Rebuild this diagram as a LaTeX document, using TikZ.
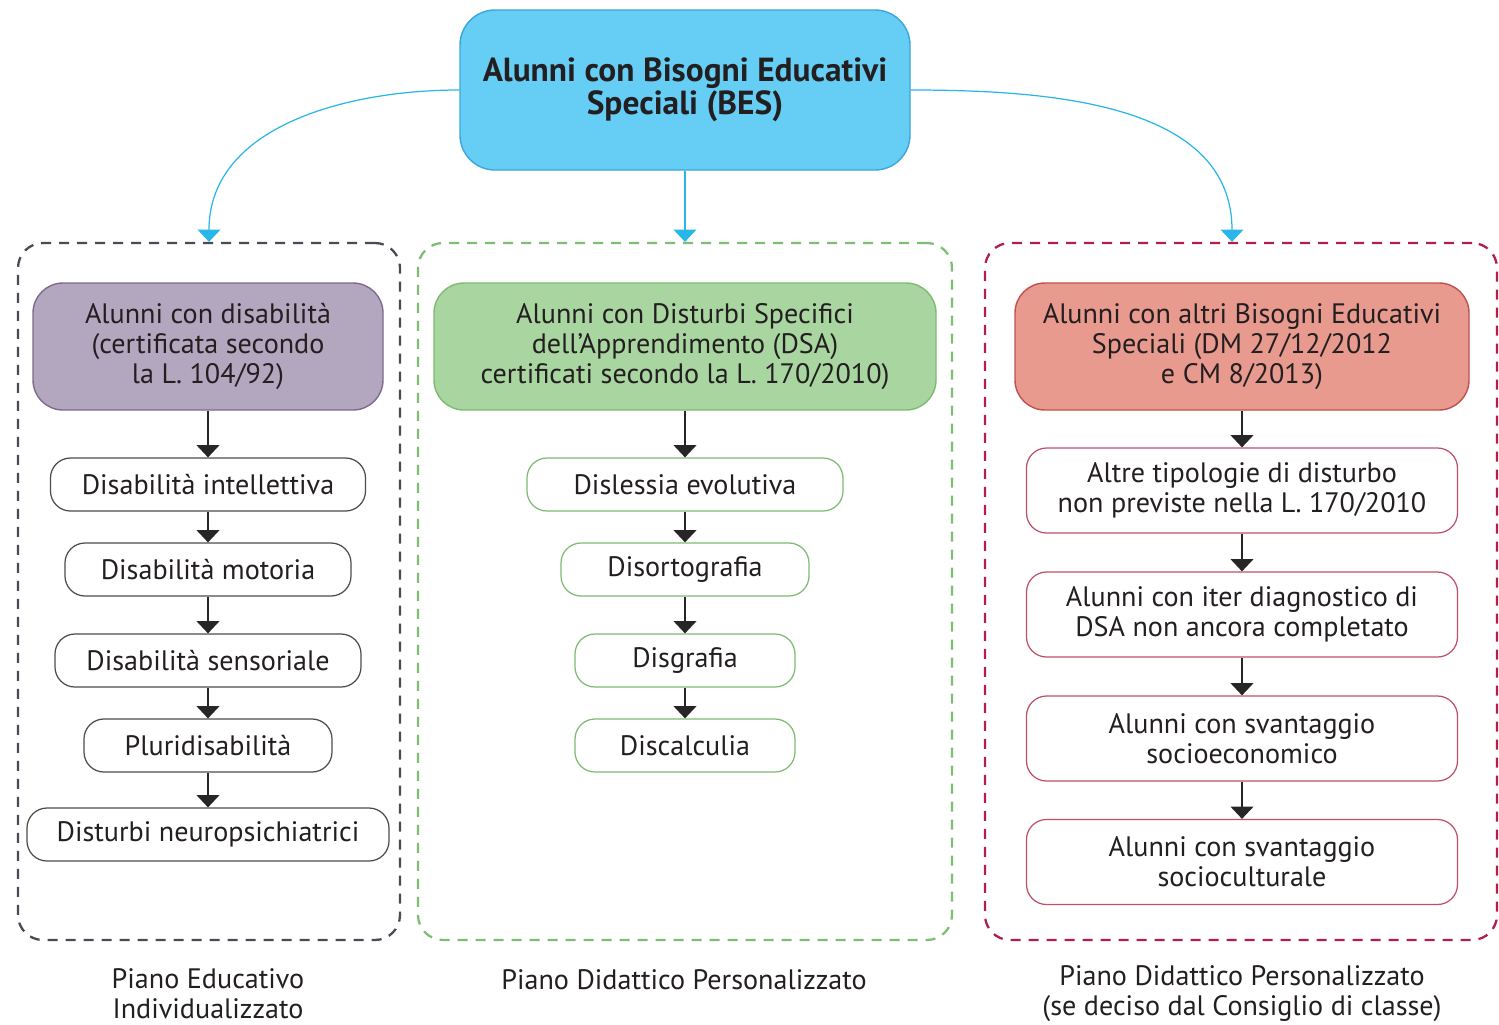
\documentclass[tikz,border=0pt]{standalone}
\usepackage{fontspec}
\setmainfont{PT Sans}
\usepackage{tikz}
\usetikzlibrary{arrows.meta,positioning}
\usepackage{xcolor}
\definecolor{besblue}{HTML}{66CEF5}
\definecolor{besedge}{HTML}{3AA6D9}
\definecolor{arrowcyan}{HTML}{29B6E8}
\definecolor{disabpurple}{HTML}{B3A7BF}
\definecolor{disabedge}{HTML}{7D6B8C}
\definecolor{dsagreen}{HTML}{A9D5A0}
\definecolor{dsaedge}{HTML}{7DBB72}
\definecolor{besred}{HTML}{E99A8F}
\definecolor{rededge}{HTML}{C0504D}
\definecolor{darkdash}{HTML}{4A4A55}
\definecolor{greendash}{HTML}{7CBF72}
\definecolor{reddash}{HTML}{B0204A}
\definecolor{itemred}{HTML}{C0506A}
\definecolor{textdark}{HTML}{231F20}

\begin{document}
\begin{tikzpicture}[
    every node/.style={font=\fontsize{16}{17}\selectfont, text=textdark},
    panel/.style={draw, dashed, dash pattern=on 0.2cm off 0.16cm, line width=1.3pt, rounded corners=0.5cm, minimum height=13.94cm},
    header/.style={draw, line width=0.8pt, rounded corners=0.6cm, minimum height=2.54cm, align=center},
    item/.style={draw, fill=white, line width=0.7pt, rounded corners=0.4cm, minimum height=1.06cm, align=center},
    bigitem/.style={item, minimum width=8.62cm, minimum height=1.7cm},
    arrow/.style={line width=0.8pt, black!85, arrows={-Triangle[length=7pt, width=13pt]}},
    besarrow/.style={line width=0.7pt, arrowcyan, arrows={-Triangle[length=7pt, width=13pt]}},
    plan/.style={align=center}
]
\useasboundingbox (0,0) rectangle (29.98,-20.48);

% ---- BES root ----
\node[draw=besedge, fill=besblue, line width=0.8pt, rounded corners=0.7cm, minimum width=9cm, minimum height=3.2cm, align=center,
      font=\fontsize{19}{19}\selectfont\bfseries] (bes) at (13.7,-1.8) {Alunni con Bisogni Educativi\\Speciali (BES)};

% ---- Dashed panels ----
\node[panel, draw=darkdash, minimum width=7.64cm] (pei) at (4.18,-11.83) {};
\node[panel, draw=greendash, minimum width=10.68cm] (pdp) at (13.7,-11.83) {};
\node[panel, draw=reddash, minimum width=10.24cm] (pdpc) at (24.82,-11.83) {};

% ---- Headers ----
\node[header, draw=disabedge, fill=disabpurple, minimum width=7cm] (disab) at (4.16,-6.93) {Alunni con disabilità\\(certificata secondo\\la L. 104/92)};
\node[header, draw=dsaedge, fill=dsagreen, minimum width=10.04cm] (dsa) at (13.7,-6.93) {Alunni con Disturbi Specifici\\dell’Apprendimento (DSA)\\certificati secondo la L. 170/2010)};
\node[header, draw=rededge, fill=besred, minimum width=9.08cm] (altri) at (24.84,-6.93) {Alunni con altri Bisogni Educativi\\Speciali (DM 27/12/2012\\e CM 8/2013)};

% ---- Disabilita ----
\node[item, draw=black!70, minimum width=6.3cm] (intell) at (4.16,-9.69) {Disabilità intellettiva};
\node[item, draw=black!70, minimum width=5.72cm] (motoria) at (4.16,-11.39) {Disabilità motoria};
\node[item, draw=black!70, minimum width=6.12cm] (sensor) at (4.16,-13.21) {Disabilità sensoriale};
\node[item, draw=black!70, minimum width=4.96cm] (pluri) at (4.16,-14.91) {Pluridisabilità};
\node[item, draw=black!70, minimum width=7.24cm] (neuro) at (4.16,-16.69) {Disturbi neuropsichiatrici};

% ---- DSA ----
\node[item, draw=dsaedge, minimum width=6.32cm] (dislessia) at (13.7,-9.69) {Dislessia evolutiva};
\node[item, draw=dsaedge, minimum width=4.96cm] (disorto) at (13.7,-11.39) {Disortografia};
\node[item, draw=dsaedge, minimum width=4.4cm] (disgrafia) at (13.7,-13.21) {Disgrafia};
\node[item, draw=dsaedge, minimum width=4.4cm] (discalc) at (13.7,-14.91) {Discalculia};

% ---- Altri BES ----
\node[bigitem, draw=itemred] (tipologie) at (24.84,-9.81) {Altre tipologie di disturbo\\non previste nella L. 170/2010};
\node[bigitem, draw=itemred] (iter) at (24.84,-12.29) {Alunni con iter diagnostico di\\DSA non ancora completato};
\node[bigitem, draw=itemred] (socioeco) at (24.84,-14.77) {Alunni con svantaggio\\socioeconomico};
\node[bigitem, draw=itemred] (sociocult) at (24.84,-17.24) {Alunni con svantaggio\\socioculturale};

% ---- Plans ----
\node[plan] (piano1) at (4.16,-19.88) {Piano Educativo\\Individualizzato};
\node[plan] (piano2) at (13.68,-19.6) {Piano Didattico Personalizzato};
\node[plan] (piano3) at (24.84,-19.88) {Piano Didattico Personalizzato\\(se deciso dal Consiglio di classe)};

% ---- Root arrows ----
\draw[besarrow] (bes.west) to[out=180, in=90] (pei.north);
\draw[besarrow] (bes.south) -- (pdp.north);
\draw[besarrow] (bes.east) to[out=0, in=90] ([xshift=-0.18cm]pdpc.north);

% ---- Chain arrows ----
\draw[arrow] (disab) -- (intell);
\draw[arrow] (intell) -- (motoria);
\draw[arrow] (motoria) -- (sensor);
\draw[arrow] (sensor) -- (pluri);
\draw[arrow] (pluri) -- (neuro);

\draw[arrow] (dsa) -- (dislessia);
\draw[arrow] (dislessia) -- (disorto);
\draw[arrow] (disorto) -- (disgrafia);
\draw[arrow] (disgrafia) -- (discalc);

\draw[arrow] (altri) -- (tipologie);
\draw[arrow] (tipologie) -- (iter);
\draw[arrow] (iter) -- (socioeco);
\draw[arrow] (socioeco) -- (sociocult);

\end{tikzpicture}
\end{document}
